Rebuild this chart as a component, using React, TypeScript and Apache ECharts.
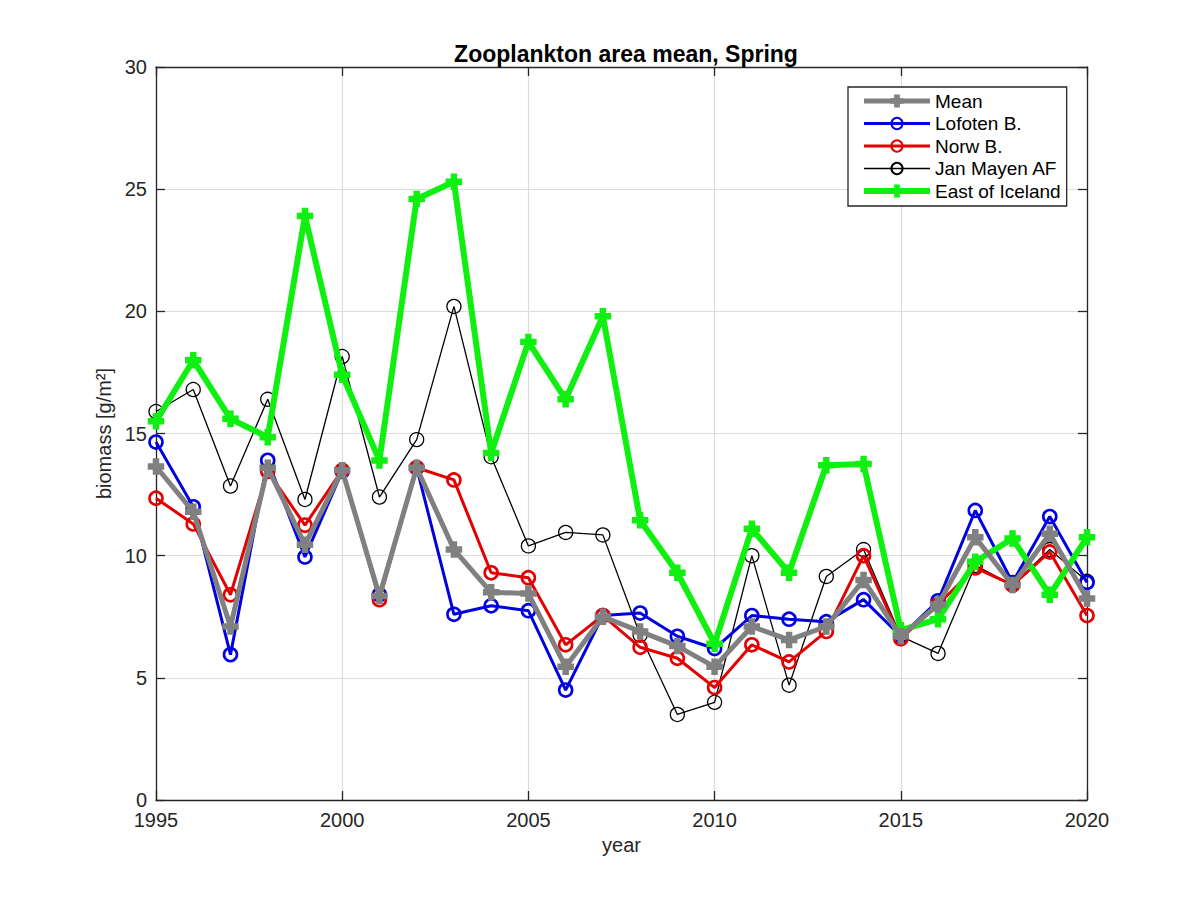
import React, { useEffect, useRef } from "react";
import * as echarts from "echarts";

const years = [1995, 1996, 1997, 1998, 1999, 2000, 2001, 2002, 2003, 2004, 2005, 2006, 2007, 2008, 2009, 2010, 2011, 2012, 2013, 2014, 2015, 2016, 2017, 2018, 2019, 2020];

const meanVals = [13.65, 11.8, 7.1, 13.6, 10.45, 13.5, 8.35, 13.6, 10.25, 8.5, 8.45, 5.45, 7.5, 6.9, 6.3, 5.45, 7.1, 6.55, 7.1, 9.0, 6.7, 8.0, 10.75, 8.8, 10.9, 8.25];
const lofotenVals = [14.65, 12.0, 5.95, 13.9, 9.95, 13.45, 8.4, 13.6, 7.6, 7.95, 7.75, 4.5, 7.55, 7.65, 6.7, 6.2, 7.55, 7.4, 7.3, 8.2, 6.7, 8.15, 11.85, 8.9, 11.6, 8.9];
const norwVals = [12.35, 11.3, 8.4, 13.45, 11.25, 13.5, 8.2, 13.6, 13.1, 9.3, 9.1, 6.35, 7.55, 6.25, 5.8, 4.6, 6.35, 5.65, 6.9, 10.0, 6.6, 8.0, 9.5, 8.8, 10.15, 7.55];
const janMayenVals = [15.9, 16.8, 12.85, 16.4, 12.3, 18.15, 12.4, 14.75, 20.2, 14.05, 10.4, 10.95, 10.85, 6.75, 3.5, 4.0, 10.0, 4.7, 9.15, 10.25, 6.7, 6.0, 9.6, 8.8, 10.25, 8.95];
const eastIcelandVals = [15.5, 18.0, 15.6, 14.85, 23.9, 17.4, 13.9, 24.6, 25.3, 14.2, 18.75, 16.4, 19.8, 11.45, 9.3, 6.4, 11.1, 9.3, 13.7, 13.75, 6.95, 7.4, 9.75, 10.7, 8.4, 10.75];

const legendOrder = ["Mean", "Lofoten B.", "Norw B.", "Jan Mayen AF", "East of Iceland"];
const legendLineWidths = [5, 3, 3, 1.3, 6];

const FONT = "Liberation Sans, Arial, Helvetica, sans-serif";
const AXIS_COLOR = "#262626";
const PLUS = "path://M4,0h4v4h4v4h-4v4h-4v-4h-4v-4h4z";

const pairs = (vals: number[]) => years.map((y, i) => [y, vals[i]]);

export default function App() {
  const ref = useRef<HTMLDivElement>(null);
  useEffect(() => {
    if (!ref.current) return;
    const chart = echarts.init(ref.current, null, { renderer: "svg" });

    const circleSeries = (name: string, vals: number[], color: string, lw: number, bw: number, size: number, z: number) => ({
      name,
      type: "line",
      data: pairs(vals),
      symbol: "circle",
      symbolSize: size,
      z,
      lineStyle: { color, width: lw },
      itemStyle: { color: "rgba(255,255,255,0)", borderColor: color, borderWidth: bw },
      emphasis: { disabled: true },
    });
    const plusSeries = (name: string, vals: number[], color: string, lw: number, size: number, z: number) => ({
      name,
      type: "line",
      data: pairs(vals),
      symbol: PLUS,
      symbolSize: size,
      z,
      lineStyle: { color, width: lw },
      itemStyle: { color, borderColor: color, borderWidth: 1.5 },
      emphasis: { disabled: true },
    });

    const option = {
      animation: false,
      backgroundColor: "#ffffff",
      title: {
        text: "Zooplankton area mean, Spring",
        left: 621,
        textAlign: "center",
        top: 37,
        textStyle: { fontFamily: FONT, fontSize: 23, fontWeight: "bold", color: "#000" },
      },
      legend: {
        data: legendOrder.map((name, i) => ({ name, lineStyle: { width: legendLineWidths[i] } })),
        orient: "vertical",
        left: 848,
        top: 87,
        backgroundColor: "#ffffff",
        borderColor: AXIS_COLOR,
        borderWidth: 1.3,
        padding: [4, 6, 5, 13],
        itemWidth: 66,
        itemHeight: 14,
        itemGap: 2.5,
        borderRadius: 0,
        textStyle: { fontFamily: FONT, fontSize: 19, color: "#000", lineHeight: 20 },
        selectedMode: false,
      },
      grid: { left: 156, right: 113, top: 67, bottom: 100, containLabel: false },
      xAxis: [
        {
          type: "value",
          min: 1995,
          max: 2020,
          interval: 5,
          name: "year",
          nameLocation: "middle",
          nameGap: 35,
          nameTextStyle: { fontFamily: FONT, fontSize: 20, color: AXIS_COLOR },
          axisLine: { show: true, onZero: false, lineStyle: { color: AXIS_COLOR, width: 1.3 } },
          axisTick: { show: true, inside: true, length: 9, lineStyle: { color: AXIS_COLOR, width: 1.3 } },
          axisLabel: { fontFamily: FONT, fontSize: 20, color: AXIS_COLOR, margin: 10, formatter: (v: number) => String(v) },
          splitLine: { show: true, lineStyle: { color: "#dcdcdc", width: 1.2 } },
        },
        {
          type: "value",
          position: "top",
          min: 1995,
          max: 2020,
          interval: 5,
          axisLine: { show: true, onZero: false, lineStyle: { color: AXIS_COLOR, width: 1.3 } },
          axisTick: { show: true, inside: true, length: 9, lineStyle: { color: AXIS_COLOR, width: 1.3 } },
          axisLabel: { show: false },
          splitLine: { show: false },
        },
      ],
      yAxis: [
        {
          type: "value",
          min: 0,
          max: 30,
          interval: 5,
          name: "biomass [g/m²]",
          nameLocation: "middle",
          nameGap: 40,
          nameTextStyle: { fontFamily: FONT, fontSize: 20, color: AXIS_COLOR },
          axisLine: { show: true, onZero: false, lineStyle: { color: AXIS_COLOR, width: 1.3 } },
          axisTick: { show: true, inside: true, length: 9, lineStyle: { color: AXIS_COLOR, width: 1.3 } },
          axisLabel: { fontFamily: FONT, fontSize: 20, color: AXIS_COLOR, margin: 9 },
          splitLine: { show: true, lineStyle: { color: "#dcdcdc", width: 1.2 } },
        },
        {
          type: "value",
          position: "right",
          min: 0,
          max: 30,
          interval: 5,
          axisLine: { show: true, onZero: false, lineStyle: { color: AXIS_COLOR, width: 1.3 } },
          axisTick: { show: true, inside: true, length: 9, lineStyle: { color: AXIS_COLOR, width: 1.3 } },
          axisLabel: { show: false },
          splitLine: { show: false },
        },
      ],
      series: [
        circleSeries("Jan Mayen AF", janMayenVals, "#000000", 1.3, 1.3, 14, 2),
        circleSeries("Lofoten B.", lofotenVals, "#0000e0", 3, 2.6, 13, 3),
        circleSeries("Norw B.", norwVals, "#e40000", 3, 2.6, 13, 4),
        plusSeries("East of Iceland", eastIcelandVals, "#10f010", 6, 15, 5),
        plusSeries("Mean", meanVals, "#808080", 5, 15, 6),
      ],
    };
    chart.setOption(option as any);
    return () => chart.dispose();
  }, []);
  return <div ref={ref} style={{ width: 1200, height: 900, margin: -8 }} />;
}
